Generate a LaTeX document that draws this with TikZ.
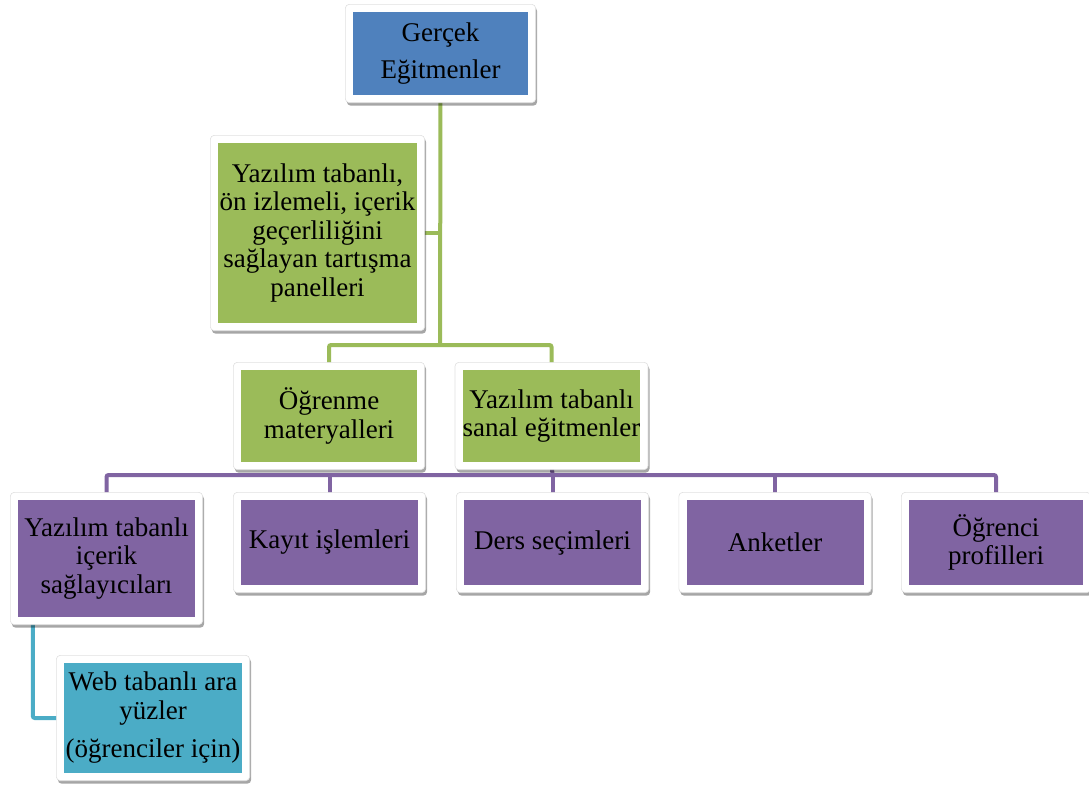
\documentclass[tikz,border=0pt]{standalone}
\usepackage{fontspec}
\setmainfont{Liberation Serif}
\usetikzlibrary{shadows,fit,backgrounds}
\definecolor{cblue}{HTML}{4F81BD}
\definecolor{cgreen}{HTML}{9BBB59}
\definecolor{cpurple}{HTML}{8064A2}
\definecolor{ccyan}{HTML}{4BACC6}
\tikzset{
  card/.style={rectangle, fill=#1, inner sep=0pt, align=center,
    font=\fontsize{27}{28.5}\selectfont},
  frame/.style={rectangle, fill=white, draw=black!12, line width=0.6pt,
    rounded corners=4pt, inner sep=7.5pt,
    drop shadow={shadow xshift=1.5pt, shadow yshift=-3pt, opacity=0.35, fill=black}},
  conn/.style={line width=4pt, draw=#1, rounded corners=2pt}
}
\begin{document}
\begin{tikzpicture}[x=1pt,y=-1pt]
\useasboundingbox (0,0) rectangle (1089,785);
\node[card=cblue, minimum width=175pt, minimum height=83pt,
      font=\fontsize{27}{37}\selectfont] (ge) at (440.5,53.5) {Gerçek\\Eğitmenler};
\node[card=cgreen, minimum width=199pt, minimum height=180pt] (panel) at (317.5,233)
  {Yazılım tabanlı,\\ön izlemeli, içerik\\geçerliliğini\\sağlayan tartışma\\panelleri};
\node[card=cgreen, minimum width=176pt, minimum height=92pt] (om) at (329,416) {Öğrenme\\materyalleri};
\node[card=cgreen, minimum width=177pt, minimum height=92pt] (sanal) at (551.5,416) {Yazılım tabanlı\\sanal eğitmenler};
\node[card=cpurple, minimum width=177pt, minimum height=117pt] (b1) at (106.5,558.5) {Yazılım tabanlı\\içerik\\sağlayıcıları};
\node[card=cpurple, minimum width=177pt, minimum height=85pt] (b2) at (329.5,542.5) {Kayıt işlemleri};
\node[card=cpurple, minimum width=177pt, minimum height=85pt] (b3) at (552.5,542.5) {Ders seçimleri};
\node[card=cpurple, minimum width=177pt, minimum height=85pt] (b4) at (775,542.5) {Anketler};
\node[card=cpurple, minimum width=174pt, minimum height=85pt] (b5) at (996,542.5) {Öğrenci\\profilleri};
\node[card=ccyan, minimum width=178pt, minimum height=110pt,
      font=\fontsize{27}{29}\selectfont] (web) at (153,718)
  {Web tabanlı ara\\yüzler\\[9pt](öğrenciler için)};
\coordinate (gj) at (440,345);
\coordinate (pj) at (552.5,475);
\begin{pgfonlayer}{background}
  \draw[conn=cgreen] (ge.south) -- (gj);
  \draw[conn=cgreen] (panel.east) -- (panel.east -| ge.south);
  \draw[conn=cgreen] (om.north) |- (gj) -| (sanal.north);
  \draw[conn=cpurple] (sanal.south) -- (pj);
  \draw[conn=cpurple] (b1.north) |- (pj) -| (b5.north);
  \draw[conn=cpurple] (b2.north) -- (b2.north |- pj);
  \draw[conn=cpurple] (b3.north) -- (b3.north |- pj);
  \draw[conn=cpurple] (b4.north) -- (b4.north |- pj);
  \draw[conn=ccyan] ([xshift=15pt]b1.south west) |- (web.west);
  \foreach \n in {ge,panel,om,sanal,b1,b2,b3,b4,b5,web}
    \node[frame, fit=(\n)] {};
\end{pgfonlayer}
\end{tikzpicture}
\end{document}
